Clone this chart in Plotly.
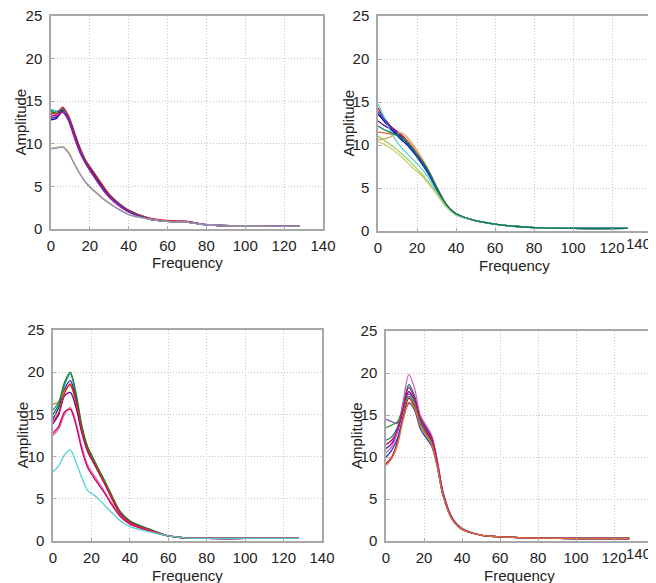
import plotly.graph_objects as go

freq = [0, 3, 6, 9, 12, 15, 18, 21, 24, 27, 30, 35, 40, 50, 60, 70, 80, 100, 128]

# top-left panel
tl_amp = [
    [13.0, 13.2, 14.2, 13.1, 11.2, 9.3, 7.9, 6.8, 5.8, 4.8, 4.0, 2.9, 2.1, 1.2, 0.9, 0.8, 0.5, 0.35, 0.3],
    [13.8, 13.6, 14.0, 12.8, 10.9, 9.1, 7.7, 6.6, 5.6, 4.6, 3.8, 2.8, 2.0, 1.2, 0.9, 0.8, 0.5, 0.35, 0.3],
    [12.8, 13.0, 13.9, 13.2, 11.3, 9.4, 7.9, 6.9, 5.9, 4.9, 4.0, 3.0, 2.2, 1.3, 0.9, 0.9, 0.5, 0.35, 0.3],
    [14.0, 13.8, 14.1, 12.9, 11.0, 9.0, 7.6, 6.6, 5.5, 4.6, 3.8, 2.8, 2.0, 1.2, 0.9, 0.8, 0.5, 0.35, 0.3],
    [13.4, 13.3, 13.7, 12.7, 10.7, 8.9, 7.6, 6.5, 5.5, 4.5, 3.7, 2.7, 2.0, 1.2, 0.9, 0.8, 0.5, 0.35, 0.3],
    [13.6, 13.5, 14.3, 13.3, 11.4, 9.5, 8.0, 7.0, 6.0, 5.0, 4.1, 3.0, 2.2, 1.3, 1.0, 0.9, 0.5, 0.35, 0.3],
    [13.2, 13.1, 13.8, 13.0, 11.1, 9.2, 7.8, 6.7, 5.7, 4.7, 3.9, 2.9, 2.1, 1.2, 0.9, 0.8, 0.5, 0.35, 0.3],
    [9.5, 9.6, 9.7, 9.1, 7.8, 6.5, 5.5, 4.8, 4.2, 3.6, 3.1, 2.3, 1.7, 1.2, 0.9, 0.8, 0.5, 0.35, 0.3],
    [9.4, 9.5, 9.6, 8.9, 7.6, 6.4, 5.4, 4.7, 4.1, 3.5, 3.0, 2.3, 1.7, 1.2, 0.9, 0.8, 0.5, 0.35, 0.3],
]

# top-right panel
tr_amp = [
    [14.3, 13.2, 12.3, 11.7, 11.2, 10.5, 9.6, 8.6, 7.6, 6.4, 5.1, 3.1, 2.0, 1.2, 0.8, 0.55, 0.4, 0.3, 0.3],
    [12.8, 12.3, 11.9, 11.5, 11.0, 10.4, 9.5, 8.5, 7.5, 6.3, 5.0, 3.0, 2.0, 1.2, 0.8, 0.55, 0.4, 0.3, 0.3],
    [11.5, 11.4, 11.3, 11.2, 10.9, 10.5, 9.7, 8.8, 7.8, 6.6, 5.2, 3.1, 2.0, 1.2, 0.8, 0.55, 0.4, 0.3, 0.3],
    [10.6, 10.7, 10.9, 11.3, 11.4, 10.9, 10.0, 9.0, 7.9, 6.6, 5.2, 3.1, 2.0, 1.2, 0.8, 0.55, 0.4, 0.3, 0.3],
    [13.6, 12.8, 12.0, 11.3, 10.6, 10.0, 9.2, 8.3, 7.3, 6.2, 4.9, 3.0, 1.9, 1.2, 0.8, 0.55, 0.4, 0.3, 0.3],
    [10.4, 10.1, 9.7, 9.2, 8.6, 8.0, 7.3, 6.7, 6.0, 5.2, 4.3, 2.8, 1.9, 1.2, 0.8, 0.55, 0.4, 0.3, 0.3],
    [14.8, 13.3, 11.8, 10.6, 9.7, 9.0, 8.3, 7.6, 6.8, 5.8, 4.6, 2.9, 1.9, 1.2, 0.8, 0.55, 0.4, 0.3, 0.3],
    [13.9, 13.0, 12.2, 11.5, 10.9, 10.2, 9.3, 8.4, 7.4, 6.2, 4.9, 3.0, 2.0, 1.2, 0.8, 0.55, 0.4, 0.3, 0.3],
    [11.0, 10.6, 10.1, 9.6, 9.0, 8.4, 7.7, 7.0, 6.2, 5.4, 4.5, 2.9, 1.9, 1.2, 0.8, 0.55, 0.4, 0.3, 0.3],
    [12.2, 11.8, 11.5, 11.2, 10.8, 10.3, 9.5, 8.6, 7.7, 6.5, 5.1, 3.1, 2.0, 1.2, 0.8, 0.55, 0.4, 0.3, 0.3],
]

# bottom-left panel
bl_amp = [
    [15.5, 16.5, 18.5, 19.8, 17.2, 13.5, 11.0, 9.6, 8.3, 7.0, 5.6, 3.4, 2.3, 1.4, 0.6, 0.35, 0.3, 0.3, 0.3],
    [14.5, 15.8, 18.0, 19.0, 16.8, 13.2, 10.9, 9.5, 8.2, 6.9, 5.5, 3.3, 2.3, 1.4, 0.6, 0.35, 0.3, 0.3, 0.3],
    [16.2, 16.5, 17.8, 18.4, 16.2, 13.0, 10.8, 9.4, 8.1, 6.8, 5.4, 3.3, 2.2, 1.3, 0.6, 0.35, 0.3, 0.3, 0.3],
    [13.9, 15.0, 17.2, 17.6, 15.8, 12.8, 10.6, 9.3, 8.0, 6.7, 5.3, 3.2, 2.2, 1.3, 0.6, 0.35, 0.3, 0.3, 0.3],
    [15.0, 16.2, 18.8, 20.0, 17.5, 13.7, 11.2, 9.8, 8.4, 7.1, 5.7, 3.5, 2.4, 1.4, 0.6, 0.35, 0.3, 0.3, 0.3],
    [12.5, 13.3, 15.0, 15.8, 14.0, 11.2, 9.0, 7.9, 6.9, 5.8, 4.7, 3.0, 2.1, 1.3, 0.6, 0.35, 0.3, 0.3, 0.3],
    [12.8, 13.6, 15.3, 15.6, 13.7, 10.8, 8.7, 7.6, 6.6, 5.6, 4.5, 2.9, 2.0, 1.2, 0.6, 0.35, 0.3, 0.3, 0.3],
    [14.2, 15.2, 17.5, 18.6, 16.5, 13.1, 10.8, 9.4, 8.1, 6.8, 5.4, 3.3, 2.2, 1.3, 0.6, 0.35, 0.3, 0.3, 0.3],
    [8.2, 8.9, 10.2, 10.8, 9.3, 7.5, 6.0, 5.5, 4.9, 4.2, 3.5, 2.4, 1.7, 1.1, 0.6, 0.35, 0.3, 0.3, 0.3],
]

# bottom-right panel
br_amp = [
    [11.0, 11.6, 13.0, 15.6, 17.8, 16.6, 14.3, 13.2, 12.0, 9.2, 5.6, 2.6, 1.4, 0.7, 0.5, 0.4, 0.35, 0.3, 0.3],
    [9.2, 10.0, 11.8, 14.8, 17.0, 16.0, 14.0, 13.0, 11.8, 9.0, 5.5, 2.6, 1.4, 0.7, 0.5, 0.4, 0.35, 0.3, 0.3],
    [14.5, 14.2, 14.0, 15.6, 17.5, 16.5, 14.4, 13.3, 12.2, 9.3, 5.7, 2.6, 1.4, 0.7, 0.5, 0.4, 0.35, 0.3, 0.3],
    [12.0, 12.4, 13.5, 16.2, 18.6, 17.3, 14.8, 13.6, 12.4, 9.5, 5.8, 2.7, 1.5, 0.7, 0.5, 0.4, 0.35, 0.3, 0.3],
    [10.5, 11.2, 13.0, 16.6, 19.8, 18.2, 15.0, 13.8, 12.6, 9.6, 5.8, 2.7, 1.5, 0.7, 0.5, 0.4, 0.35, 0.3, 0.3],
    [10.0, 10.8, 12.2, 14.6, 16.4, 15.6, 13.4, 12.3, 11.3, 8.8, 5.4, 2.5, 1.4, 0.7, 0.5, 0.4, 0.35, 0.3, 0.3],
    [13.5, 13.8, 14.2, 15.8, 17.2, 16.3, 14.1, 12.8, 11.7, 9.0, 5.5, 2.6, 1.4, 0.7, 0.5, 0.4, 0.35, 0.3, 0.3],
    [11.5, 12.0, 13.2, 15.8, 18.3, 17.0, 14.6, 13.4, 12.3, 9.4, 5.7, 2.6, 1.4, 0.7, 0.5, 0.4, 0.35, 0.3, 0.3],
    [9.0, 9.8, 11.4, 14.4, 16.5, 15.8, 13.7, 12.6, 11.5, 8.9, 5.4, 2.5, 1.4, 0.7, 0.5, 0.4, 0.35, 0.3, 0.3],
]

x_ticks = [0, 20, 40, 60, 80, 100, 120, 140]
y_ticks = [0, 5, 10, 15, 20, 25]

tl_colors = ["#cc0066", "#008000", "#0000cc", "#00a0a0", "#cc00cc", "#e02020", "#404090", "#d8d080", "#9088b8"]
tr_colors = ["#cc0033", "#6a00a0", "#e07030", "#e0a060", "#0000cc", "#c8d070", "#60d0d0", "#1f3fbf", "#a0d060", "#008060"]
bl_colors = ["#00a0a0", "#1f1fbf", "#d08020", "#6a00a0", "#208020", "#e060a0", "#cc0066", "#e02020", "#50d0d0"]
br_colors = ["#6a00a0", "#cc0033", "#8060c0", "#008060", "#d060c0", "#1f3fbf", "#30a040", "#cc0066", "#e07030"]

# pixel boxes of the four plot areas in the 656x583 page;
# the page body has an 8px margin, so page pixels are shifted by OFF
W, H = 656, 583
OFF = 8
boxes = [(51, 323, 16, 229), (378, 651, 16, 231), (53, 322, 330, 541), (386, 652, 331, 541)]
panels = [(tl_amp, tl_colors), (tr_amp, tr_colors), (bl_amp, bl_colors), (br_amp, br_colors)]


def px(v):
    return (v - OFF) / W


def py(v):
    return 1 - (v - OFF) / H


fig = go.Figure()
font = "Liberation Sans, Arial, sans-serif"
tfont = dict(size=15, color="#222", family=font)
annotations = []
for i, ((amps, cols), (x0, x1, y0, y1)) in enumerate(zip(panels, boxes)):
    n = "" if i == 0 else str(i + 1)
    right_col = i in (1, 3)
    for amp, c in zip(amps, cols):
        fig.add_trace(go.Scatter(x=freq, y=amp, mode="lines", xaxis="x" + n, yaxis="y" + n,
                                 line=dict(color=c, width=1.3, shape="spline", smoothing=0.8),
                                 showlegend=False, hoverinfo="skip"))
    axis_common = dict(showgrid=True, gridcolor="#c4c4c4", griddash="1px,2px", gridwidth=1,
                       showline=True, mirror=True, linecolor="#a8a8a8", linewidth=1.5,
                       zeroline=False, ticks="inside", ticklen=3, tickcolor="#a8a8a8",
                       tickfont=tfont, automargin=False, ticklabeloverflow="allow")
    xlabels = [str(t) for t in x_ticks]
    if right_col:
        # the last label is pulled in to stay inside the page
        xlabels[-1] = ""
        annotations.append(dict(text="140", x=px(653), y=py(y1 + 12), xref="paper", yref="paper",
                                xanchor="right", yanchor="middle", showarrow=False, font=tfont))
    fig.update_layout({
        "xaxis" + n: dict(axis_common, domain=[px(x0), px(x1)], range=[0, 140], tickvals=x_ticks,
                          ticktext=xlabels, anchor="y" + n, ticklabelstandoff=2),
        "yaxis" + n: dict(axis_common, domain=[py(y1), py(y0)], range=[0, 25], tickvals=y_ticks,
                          anchor="x" + n, ticklabelstandoff=4),
    })
    annotations.append(dict(text="Frequency", x=px((x0 + x1) / 2), y=py(y1 + 34), xref="paper", yref="paper",
                            xanchor="center", yanchor="middle", showarrow=False, font=tfont))
    annotations.append(dict(text="Amplitude", x=px(x0 - (31 if not right_col else 30)), y=py((y0 + y1) / 2),
                            xref="paper", yref="paper", xanchor="center", yanchor="middle",
                            textangle=-90, showarrow=False, font=tfont))

fig.update_layout(width=W, height=H, margin=dict(l=0, r=0, t=0, b=0, autoexpand=False), plot_bgcolor="white",
                  paper_bgcolor="white", annotations=annotations)
fig.write_html("out.html")
